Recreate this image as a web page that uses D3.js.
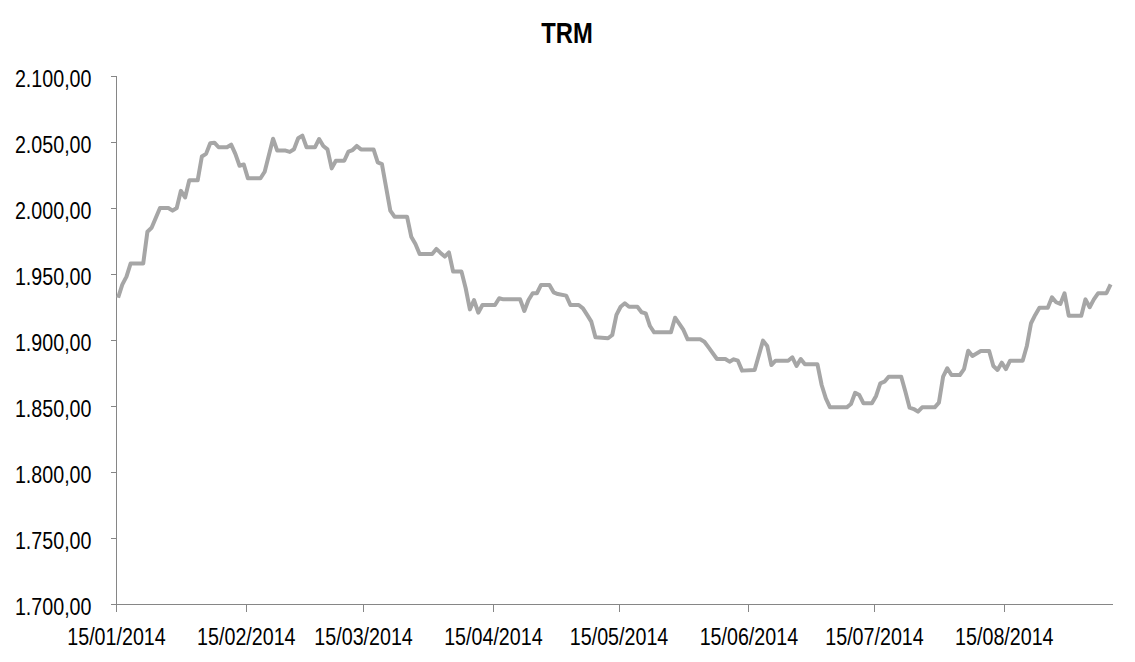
<!DOCTYPE html>
<html>
<head>
<meta charset="utf-8">
<script src="https://cdn.jsdelivr.net/npm/d3@7"></script>
<style>
  html, body { margin: 0; padding: 0; background: #ffffff; }
  svg { display: block; }
  .lbl { font-family: "Liberation Sans", Arial, sans-serif; }
</style>
</head>
<body>
<svg id="chart" width="1135" height="662"></svg>
<script>
// ---- Data ----
const title = "TRM";
const dates = [
  "2014-01-15","2014-01-16","2014-01-17","2014-01-18","2014-01-21","2014-01-22","2014-01-23","2014-01-25","2014-01-27","2014-01-28",
  "2014-01-29","2014-01-30","2014-01-31","2014-02-01","2014-02-03","2014-02-04","2014-02-05","2014-02-06","2014-02-07","2014-02-08",
  "2014-02-10","2014-02-11","2014-02-12","2014-02-13","2014-02-14","2014-02-15","2014-02-18","2014-02-19","2014-02-21","2014-02-22",
  "2014-02-24","2014-02-25","2014-02-26","2014-02-27","2014-02-28","2014-03-01","2014-03-03","2014-03-04","2014-03-05","2014-03-06",
  "2014-03-07","2014-03-08","2014-03-10","2014-03-11","2014-03-12","2014-03-13","2014-03-14","2014-03-17","2014-03-18","2014-03-19",
  "2014-03-21","2014-03-22","2014-03-25","2014-03-26","2014-03-27","2014-03-28","2014-03-31","2014-04-01","2014-04-02","2014-04-03",
  "2014-04-04","2014-04-05","2014-04-07","2014-04-08","2014-04-09","2014-04-10","2014-04-11","2014-04-12","2014-04-15","2014-04-16",
  "2014-04-17","2014-04-21","2014-04-22","2014-04-23","2014-04-24","2014-04-25","2014-04-26","2014-04-28","2014-04-29","2014-04-30",
  "2014-05-02","2014-05-03","2014-05-05","2014-05-06","2014-05-07","2014-05-08","2014-05-09","2014-05-12","2014-05-13","2014-05-14",
  "2014-05-15","2014-05-16","2014-05-17","2014-05-19","2014-05-20","2014-05-21","2014-05-22","2014-05-23","2014-05-27","2014-05-28",
  "2014-05-30","2014-05-31","2014-06-03","2014-06-04","2014-06-05","2014-06-07","2014-06-09","2014-06-10","2014-06-11","2014-06-12",
  "2014-06-13","2014-06-16","2014-06-18","2014-06-19","2014-06-20","2014-06-21","2014-06-24","2014-06-25","2014-06-26","2014-06-27",
  "2014-06-28","2014-07-01","2014-07-02","2014-07-03","2014-07-04","2014-07-08","2014-07-09","2014-07-10","2014-07-11","2014-07-12",
  "2014-07-14","2014-07-15","2014-07-16","2014-07-17","2014-07-18","2014-07-21","2014-07-22","2014-07-23","2014-07-24","2014-07-25",
  "2014-07-26","2014-07-29","2014-07-30","2014-07-31","2014-08-01","2014-08-02","2014-08-04","2014-08-05","2014-08-06","2014-08-07",
  "2014-08-09","2014-08-11","2014-08-12","2014-08-13","2014-08-14","2014-08-15","2014-08-16","2014-08-19","2014-08-20","2014-08-21",
  "2014-08-22","2014-08-23","2014-08-25","2014-08-26","2014-08-27","2014-08-28","2014-08-29","2014-08-30","2014-09-02","2014-09-03",
  "2014-09-04","2014-09-05","2014-09-06","2014-09-08","2014-09-09"
];
const trm = [
  1932,1942,1948,1958,1958,1982,1985,2000,2000,1998,
  2000,2013,2008,2021,2021,2039,2041,2049,2049.5,2046,
  2046,2048,2041,2032,2033,2022.5,2022.5,2027.5,2052.5,2043.5,
  2043.5,2042.5,2044.5,2052.8,2054.8,2046,2046,2052.3,2047,2044.4,
  2030,2035.8,2035.8,2042.7,2043.9,2047,2044.4,2044.4,2034.6,2033.3,
  1998,1993.4,1993.4,1978.3,1972.7,1965.2,1965.2,1969,1966,1963.2,
  1966.4,1951.8,1951.8,1939.2,1923.2,1930.3,1920.7,1926.5,1926.5,1931.6,
  1930.8,1930.8,1922,1930.3,1935.4,1935.4,1941.7,1941.7,1936.1,1934.8,
  1933.6,1926.5,1926.5,1924,1919,1913.9,1902,1901.3,1903.8,1919,
  1925.2,1927.8,1925.2,1925.2,1921,1920.2,1910.6,1905.8,1905.8,1916.9,
  1907.6,1900.5,1900.5,1898.7,1894.4,1885.6,1885.6,1883.6,1885.4,1884.3,
  1876.8,1877.3,1899.5,1895.5,1881,1884.3,1884.3,1886.9,1880.3,1885.6,
  1881.6,1881.6,1865.9,1855.8,1849,1849,1851.5,1860,1858.3,1852,
  1852,1857.6,1867.2,1868.4,1872.2,1872.2,1860.8,1848.7,1847.7,1845.7,
  1849,1849,1852.6,1872.2,1878.6,1873.5,1873.5,1878,1891.9,1887.9,
  1891.7,1891.7,1880.3,1877.3,1882.8,1878,1884.3,1884.3,1895.5,1912.7,
  1919,1924.5,1924.5,1932.3,1928.6,1927.3,1935.4,1918.4,1918.4,1930.8,
  1924.8,1930.8,1935.4,1935.4,1942.2
];
const xTickDates = ["2014-01-15","2014-02-15","2014-03-15","2014-04-15","2014-05-15","2014-06-15","2014-07-15","2014-08-15"];
const yTicks = [1700,1750,1800,1850,1900,1950,2000,2050,2100];
const xStart = "2014-01-15";
const xEnd = "2014-09-10";

// ---- Rendering ----
const parse = d3.utcParse("%Y-%m-%d");
const series = dates.map((d, i) => ({ date: parse(d), value: trm[i] }));

const svg = d3.select("#chart");
const plotLeft = 116, plotRight = 1112.7, plotTop = 76, plotBottom = 604;
const narrow = 0.82; // condensed look of the original narrow typeface

const x = d3.scaleUtc().domain([parse(xStart), parse(xEnd)]).range([plotLeft, plotRight]);
const y = d3.scaleLinear().domain([1700, 2100]).range([plotBottom, plotTop]);

const locale = d3.formatLocale({ decimal: ",", thousands: ".", grouping: [3], currency: ["", ""] });
const yFmt = locale.format(",.2f");
const xFmt = d3.utcFormat("%d/%m/%Y");
const axisColor = "#868686";

// Title
svg.append("text")
  .attr("class", "lbl")
  .attr("x", 567 / narrow).attr("y", 43)
  .attr("transform", `scale(${narrow},1)`)
  .attr("text-anchor", "middle")
  .attr("font-size", 29).attr("font-weight", "bold")
  .attr("fill", "#000")
  .text(title);

// Y axis
const yAxis = svg.append("g")
  .attr("transform", `translate(${plotLeft + 0.5},0)`)
  .call(d3.axisLeft(y).tickValues(yTicks).tickFormat(yFmt).tickSize(6).tickPadding(18));
yAxis.select(".domain").attr("stroke", axisColor).attr("d", `M0,${plotTop}V${plotBottom}`);
yAxis.selectAll(".tick line").attr("stroke", axisColor);
yAxis.selectAll(".tick text")
  .attr("class", "lbl")
  .attr("font-size", 24).attr("fill", "#000")
  .attr("x", -25 / narrow)
  .attr("transform", `scale(${narrow},1)`)
  .attr("dy", "0.42em");

// X axis
const xAxis = svg.append("g")
  .attr("transform", `translate(0,${plotBottom + 0.5})`)
  .call(d3.axisBottom(x).tickValues(xTickDates.map(parse)).tickFormat(xFmt).tickSize(7).tickPadding(16));
xAxis.select(".domain").attr("stroke", axisColor).attr("d", `M${plotLeft},0H${plotRight}`);
xAxis.selectAll(".tick line").attr("stroke", axisColor);
xAxis.selectAll(".tick text")
  .attr("class", "lbl")
  .attr("font-size", 24).attr("fill", "#000")
  .attr("transform", `scale(${narrow},1)`);
svg.selectAll(".tick line").attr("shape-rendering", "crispEdges");
svg.selectAll(".domain").attr("shape-rendering", "crispEdges");

// Line (points at the middle of each day slot)
const halfDay = 12 * 3600 * 1000;
const line = d3.line()
  .x(d => x(new Date(d.date.getTime() + halfDay)))
  .y(d => y(d.value));

svg.append("path")
  .datum(series)
  .attr("fill", "none")
  .attr("stroke", "#A6A6A6")
  .attr("stroke-width", 4)
  .attr("stroke-linejoin", "round")
  .attr("d", line);
</script>
</body>
</html>
